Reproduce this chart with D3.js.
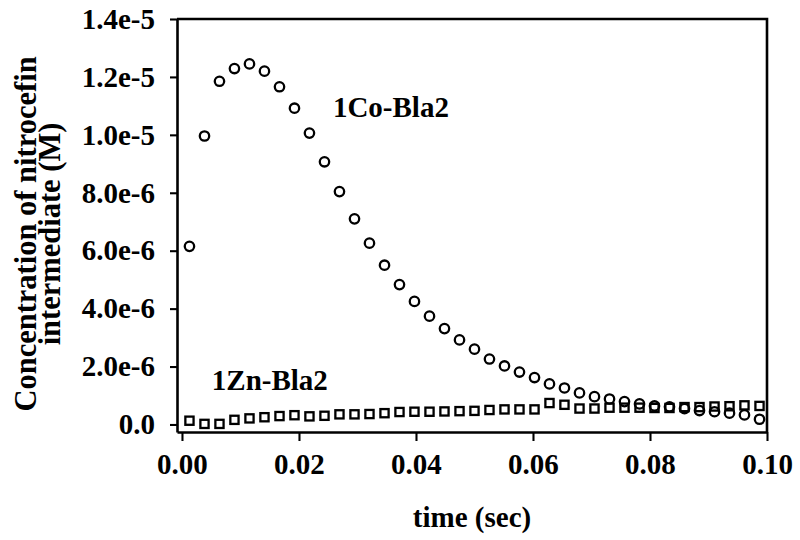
<!DOCTYPE html>
<html>
<head>
<meta charset="utf-8">
<script src="https://cdn.jsdelivr.net/npm/d3@7"></script>
<style>
  body { margin: 0; background: #fff; }
  svg { display: block; }
  text { font-family: "Liberation Serif", "Times New Roman", serif; font-weight: bold; fill: #000; }
</style>
</head>
<body>
<div id="plot"></div>
<script>
// DATA
let times = [0.00128, 0.00385, 0.00641, 0.00897, 0.01154, 0.01410, 0.01667, 0.01923, 0.02179, 0.02436,
             0.02692, 0.02949, 0.03205, 0.03462, 0.03718, 0.03974, 0.04231, 0.04487, 0.04744, 0.05000,
             0.05256, 0.05513, 0.05769, 0.06026, 0.06282, 0.06538, 0.06795, 0.07051, 0.07308, 0.07564,
             0.07821, 0.08077, 0.08333, 0.08590, 0.08846, 0.09103, 0.09359, 0.09615, 0.09872];

// 1Co-Bla2 (circles), M
let coValues = [6.15e-6, 9.96e-6, 11.85e-6, 12.29e-6, 12.45e-6, 12.20e-6, 11.66e-6, 10.92e-6, 10.06e-6, 9.07e-6,
                8.04e-6, 7.10e-6, 6.26e-6, 5.50e-6, 4.83e-6, 4.25e-6, 3.74e-6, 3.31e-6, 2.92e-6, 2.60e-6,
                2.26e-6, 2.02e-6, 1.81e-6, 1.62e-6, 1.40e-6, 1.26e-6, 1.09e-6, 0.96e-6, 0.88e-6, 0.79e-6,
                0.71e-6, 0.64e-6, 0.61e-6, 0.55e-6, 0.48e-6, 0.44e-6, 0.39e-6, 0.33e-6, 0.18e-6];

// 1Zn-Bla2 (squares), M
let znValues = [0.13e-6, 0.02e-6, 0.02e-6, 0.16e-6, 0.21e-6, 0.25e-6, 0.29e-6, 0.32e-6, 0.28e-6, 0.30e-6,
                0.35e-6, 0.35e-6, 0.36e-6, 0.39e-6, 0.43e-6, 0.44e-6, 0.44e-6, 0.45e-6, 0.46e-6, 0.47e-6,
                0.50e-6, 0.52e-6, 0.52e-6, 0.52e-6, 0.74e-6, 0.68e-6, 0.55e-6, 0.55e-6, 0.58e-6, 0.58e-6,
                0.58e-6, 0.57e-6, 0.57e-6, 0.60e-6, 0.60e-6, 0.62e-6, 0.63e-6, 0.66e-6, 0.64e-6];

let xTicks = [0, 0.02, 0.04, 0.06, 0.08, 0.10];
let xTickLabels = ["0.00", "0.02", "0.04", "0.06", "0.08", "0.10"];
let yTicks = [0, 2e-6, 4e-6, 6e-6, 8e-6, 10e-6, 12e-6, 14e-6];
let yTickLabels = ["0.0", "2.0e-6", "4.0e-6", "6.0e-6", "8.0e-6", "1.0e-5", "1.2e-5", "1.4e-5"];

let seriesNames = ["1Co-Bla2", "1Zn-Bla2"];
let labelAnchors = [[0.0258, 10.62e-6], [0.0051, 1.19e-6]]; // [time, conc] of label start

//GENERAL VARIABLE INITIALIZATION
let w = 800;
let h = 540;
let plotLeft = 177, plotRight = 767, plotTop = 19, plotBottom = 432;
let fontSize = 29;
let lineW = 2.6;

let svg = d3.select("#plot").append("svg")
    .attr("width", w)
    .attr("height", h);

let xScale = d3.scaleLinear()
    .domain([-0.00085, 0.10])
    .range([plotLeft, plotRight]);

let yScale = d3.scaleLinear()
    .domain([-0.26e-6, 14e-6])
    .range([plotBottom, plotTop]);

// AXES
let xAxis = d3.axisBottom(xScale)
    .tickValues(xTicks)
    .tickFormat((d, i) => xTickLabels[i])
    .tickSizeInner(9)
    .tickSizeOuter(0)
    .tickPadding(12);

let yAxis = d3.axisLeft(yScale)
    .tickValues(yTicks)
    .tickFormat((d, i) => yTickLabels[i])
    .tickSizeInner(7)
    .tickSizeOuter(0)
    .tickPadding(15);

let gx = svg.append("g")
    .attr("transform", "translate(0," + plotBottom + ")")
    .call(xAxis);

let gy = svg.append("g")
    .attr("transform", "translate(" + plotLeft + ",0)")
    .call(yAxis);

[gx, gy].forEach(g => {
  g.select(".domain").attr("stroke", "#000").attr("stroke-width", lineW);
  g.selectAll(".tick line").attr("stroke", "#000").attr("stroke-width", lineW * 0.8);
  g.selectAll(".tick text")
    .attr("font-family", null)
    .attr("font-size", fontSize);
});

// frame: top and right
svg.append("path")
    .attr("d", "M" + plotLeft + "," + plotTop + "H" + plotRight + "V" + plotBottom)
    .attr("fill", "none")
    .attr("stroke", "#000")
    .attr("stroke-width", lineW);

// axis titles
svg.append("text")
    .attr("x", (plotLeft + plotRight) / 2)
    .attr("y", 527)
    .attr("text-anchor", "middle")
    .attr("font-size", fontSize)
    .text("time (sec)");

let yTitle = svg.append("text")
    .attr("transform", "translate(36,234) rotate(-90)")
    .attr("text-anchor", "middle")
    .attr("font-size", 30.5);
yTitle.append("tspan").attr("x", 0).attr("y", 0).text("Concentration of nitrocefin");
yTitle.append("tspan").attr("x", 0).attr("y", 24).text("intermediate (M)");

// MARKERS
let znData = times.map((t, i) => ({t: t, v: znValues[i]}));
let coData = times.map((t, i) => ({t: t, v: coValues[i]}));
let sq = 8.2;

svg.selectAll(".pointZn")
    .data(znData)
    .enter().append("rect")
    .attr("class", "pointZn")
    .attr("x", d => xScale(d.t) - sq / 2)
    .attr("y", d => yScale(d.v) - sq / 2)
    .attr("width", sq)
    .attr("height", sq)
    .attr("fill", "none")
    .attr("stroke", "#000")
    .attr("stroke-width", 2.3);

svg.selectAll(".pointCo")
    .data(coData)
    .enter().append("circle")
    .attr("class", "pointCo")
    .attr("cx", d => xScale(d.t))
    .attr("cy", d => yScale(d.v))
    .attr("r", 4.7)
    .attr("fill", "none")
    .attr("stroke", "#000")
    .attr("stroke-width", 2.3);

// series labels
svg.selectAll(".seriesLabel")
    .data(seriesNames)
    .enter().append("text")
    .attr("class", "seriesLabel")
    .attr("x", (d, i) => xScale(labelAnchors[i][0]))
    .attr("y", (d, i) => yScale(labelAnchors[i][1]))
    .attr("font-size", fontSize)
    .text(d => d);
</script>
</body>
</html>
